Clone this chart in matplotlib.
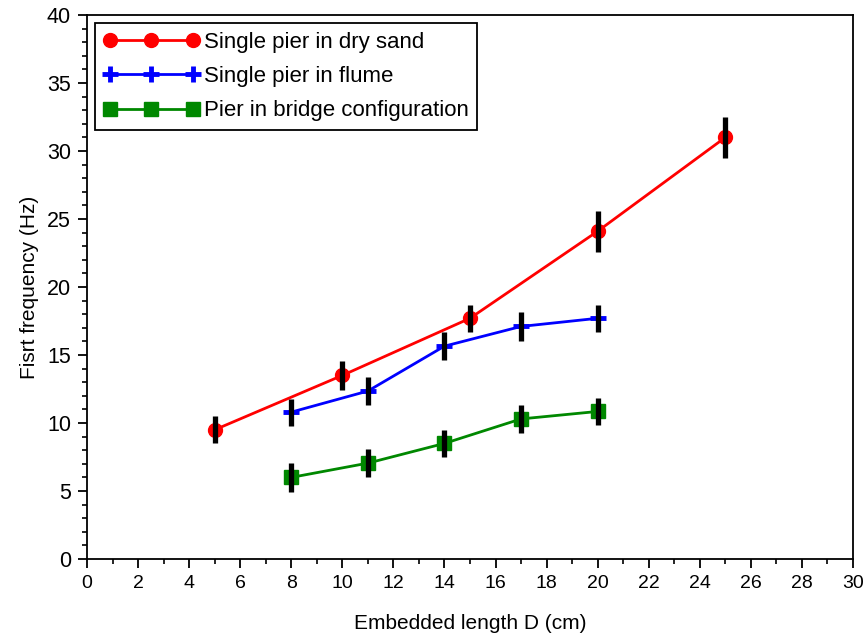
import numpy as np
import matplotlib
matplotlib.use("Agg")
import matplotlib.pyplot as plt
from matplotlib.ticker import MultipleLocator

plt.rcParams["font.family"] = ["Liberation Sans", "DejaVu Sans"]

# data
dry_x = [5, 10, 15, 20, 25]
dry_y = [9.5, 13.5, 17.7, 24.1, 31.0]
dry_err = [1.0, 1.05, 1.0, 1.5, 1.5]

flume_x = [8, 11, 14, 17, 20]
flume_y = [10.8, 12.35, 15.65, 17.1, 17.7]
flume_err = [1.0, 1.0, 1.05, 1.05, 1.0]

bridge_x = [8, 11, 14, 17, 20]
bridge_y = [6.0, 7.05, 8.5, 10.3, 10.85]
bridge_err = [1.05, 1.05, 1.0, 1.0, 1.0]

x_ticks = np.arange(0, 31, 2)
y_ticks = np.arange(0, 41, 5)

fig = plt.figure(figsize=(8.68, 6.38), dpi=100)
ax = fig.add_axes([0.1002, 0.1238, 0.8825, 0.8527])

ax.plot(dry_x, dry_y, color="red", lw=2, marker="o", markersize=10,
        label="Single pier in dry sand", zorder=3)
ax.plot(flume_x, flume_y, color="blue", lw=2, marker="+", markersize=11,
        markeredgewidth=3.5, label="Single pier in flume", zorder=3)
ax.plot(bridge_x, bridge_y, color="#008800", lw=2, marker="s", markersize=10,
        label="Pier in bridge configuration", zorder=3)

for xs, ys, es in [(dry_x, dry_y, dry_err),
                   (flume_x, flume_y, flume_err),
                   (bridge_x, bridge_y, bridge_err)]:
    ax.errorbar(xs, ys, yerr=es, fmt="none", ecolor="black",
                elinewidth=3.8, capsize=0, zorder=4)

ax.set_xlim(0, 30)
ax.set_ylim(0, 40)
ax.set_xticks(x_ticks)
ax.set_yticks(y_ticks)
ax.xaxis.set_minor_locator(MultipleLocator(1))
ax.yaxis.set_minor_locator(MultipleLocator(1))
ax.tick_params(which="major", direction="out", length=6.5, width=1.3, pad=5)
ax.tick_params(which="minor", direction="out", length=3.5, width=1.2)
ax.tick_params(axis="y", labelsize=15.5)
ax.tick_params(axis="x", labelsize=14)
for s in ax.spines.values():
    s.set_linewidth(1.3)

ax.set_xlabel("Embedded length D (cm)", fontsize=15, labelpad=16)
ax.set_ylabel("Fisrt frequency (Hz)", fontsize=15, labelpad=6)

leg = ax.legend(loc="upper left", fontsize=16, numpoints=3, handlelength=4.3,
                handletextpad=0.2, borderaxespad=0.35, fancybox=False,
                edgecolor="black", framealpha=1, labelspacing=0.6,
                borderpad=0.4)
leg.get_frame().set_linewidth(1.3)

fig.savefig("out.png", dpi=100)
